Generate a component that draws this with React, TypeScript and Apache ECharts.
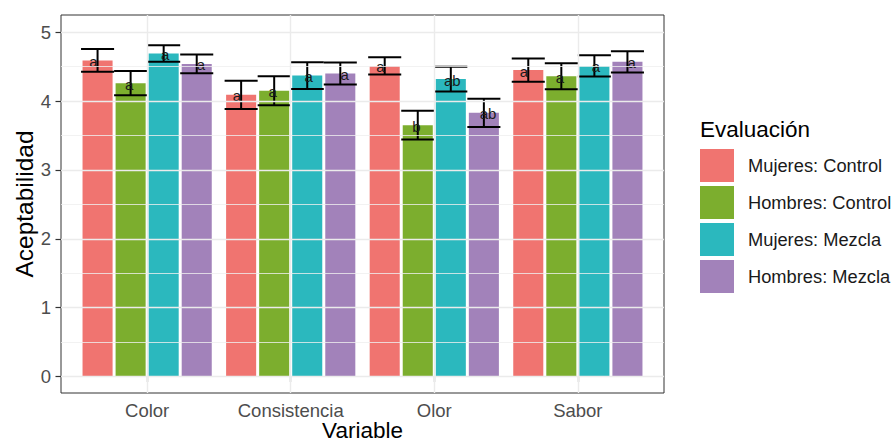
import React, { useEffect, useRef } from "react";
import * as echarts from "echarts";

const categories = ["Color", "Consistencia", "Olor", "Sabor"];
const groups = ["Mujeres: Control", "Hombres: Control", "Mujeres: Mezcla", "Hombres: Mezcla"];
const colors = ["#F07470", "#7CAE2E", "#2BB8BE", "#A282BA"];

const mujeresControl = [4.59, 4.09, 4.51, 4.45];
const hombresControl = [4.26, 4.15, 3.65, 4.36];
const mujeresMezcla = [4.69, 4.37, 4.32, 4.51];
const hombresMezcla = [4.54, 4.4, 3.83, 4.57];

const errMujeresControl = [0.165, 0.205, 0.125, 0.17];
const errHombresControl = [0.175, 0.21, 0.21, 0.19];
const errMujeresMezcla = [0.12, 0.195, 0.18, 0.155];
const errHombresMezcla = [0.135, 0.16, 0.205, 0.155];

const letrasMujeresControl = ["a", "a", "a", "a"];
const letrasHombresControl = ["a", "a", "b", "a"];
const letrasMujeresMezcla = ["a", "a", "ab", "a"];
const letrasHombresMezcla = ["a", "a", "ab", "a"];

const yTicks = [0, 1, 2, 3, 4, 5];
const yMinor = [0.5, 1.5, 2.5, 3.5, 4.5];

const FONT = "'Liberation Sans', Arial, sans-serif";

export default function App() {
  const ref = useRef<HTMLDivElement>(null);
  useEffect(() => {
    document.body.style.margin = "0";
    const chart = echarts.init(ref.current!, null, { renderer: "svg" });
    const means = [mujeresControl, hombresControl, mujeresMezcla, hombresMezcla];
    const errs = [errMujeresControl, errHombresControl, errMujeresMezcla, errHombresMezcla];
    const letters = [letrasMujeresControl, letrasHombresControl, letrasMujeresMezcla, letrasHombresMezcla];

    const yMin = -0.24;
    const yMax = 5.25;

    const barOffset = (band: number, gi: number) => {
      const bw = (band * 0.9) / 4.3;
      const gap = bw * 0.1;
      return { off: -band * 0.45 + gi * (bw + gap) + bw / 2, bw, gap };
    };

    const barSeries = groups.map((g, gi) => ({
      type: "custom",
      name: g,
      xAxisIndex: 1,
      yAxisIndex: 1,
      z: 2,
      itemStyle: { color: colors[gi] },
      encode: { x: 0, y: 1 },
      data: means[gi].map((m, ci) => [ci, m]),
      renderItem: (params: any, api: any) => {
        const cat = api.value(0);
        const val = api.value(1);
        const band = api.size([1, 0])[0];
        const { off, bw } = barOffset(band, gi);
        const p0 = api.coord([cat, 0]);
        const p1 = api.coord([cat, val]);
        return {
          type: "rect",
          shape: { x: p0[0] + off - bw / 2, y: p1[1], width: bw, height: p0[1] - p1[1] },
          style: { fill: colors[gi] },
        };
      },
    }));

    const errSeries = groups.map((g, gi) => ({
      type: "custom",
      name: "err" + gi,
      xAxisIndex: 1,
      yAxisIndex: 1,
      z: 3,
      encode: { x: 0, y: [1, 2] },
      data: means[gi].map((m, ci) => [ci, m - errs[gi][ci], m + errs[gi][ci]]),
      renderItem: (params: any, api: any) => {
        const cat = api.value(0);
        const lo = api.value(1);
        const hi = api.value(2);
        const band = api.size([1, 0])[0];
        const { off, bw, gap } = barOffset(band, gi);
        const pLo = api.coord([cat, lo]);
        const pHi = api.coord([cat, hi]);
        const x = pLo[0] + off;
        const half = (bw + gap) / 2;
        const style = { stroke: "#000", lineWidth: 2 };
        return {
          type: "group",
          children: [
            { type: "line", shape: { x1: x, y1: pLo[1], x2: x, y2: pHi[1] }, style },
            { type: "line", shape: { x1: x - half, y1: pHi[1], x2: x + half, y2: pHi[1] }, style },
            { type: "line", shape: { x1: x - half, y1: pLo[1], x2: x + half, y2: pLo[1] }, style },
          ],
        };
      },
    }));

    const letterSeries = groups.map((g, gi) => ({
      type: "custom",
      name: "let" + gi,
      xAxisIndex: 1,
      yAxisIndex: 1,
      z: 4,
      encode: { x: 0, y: 1 },
      data: means[gi].map((m, ci) => [ci, m]),
      renderItem: (params: any, api: any) => {
        const cat = api.value(0);
        const m = api.value(1);
        const band = api.size([1, 0])[0];
        const p = api.coord([cat, m]);
        const x = p[0] + (gi - 1.5) * 0.25 * band;
        return {
          type: "text",
          style: {
            x,
            y: p[1] + 1,
            text: letters[gi][params.dataIndex],
            fill: "#1a1a1a",
            font: `15px ${FONT}`,
            align: "center",
            verticalAlign: "middle",
          },
        };
      },
    }));

    const option: any = {
      animation: false,
      textStyle: { fontFamily: FONT },
      title: {
        text: "Evaluación",
        left: 695,
        top: 113,
        textStyle: { fontSize: 22.5, fontWeight: "normal", color: "#000", fontFamily: FONT },
      },
      legend: {
        data: groups,
        orient: "vertical",
        left: 695,
        top: 144,
        itemWidth: 34,
        itemHeight: 33,
        itemGap: 4,
        icon: "rect",
        selectedMode: false,
        textStyle: { fontSize: 18.3, color: "#1a1a1a", fontFamily: FONT, padding: [0, 0, 0, 9] },
      },
      grid: [
        {
          left: 61,
          right: 231,
          top: 15,
          bottom: 53,
          show: true,
          borderColor: "#333333",
          borderWidth: 1,
          backgroundColor: "transparent",
          outerBoundsMode: "none",
          containLabel: false,
        },
        {
          left: 75.36,
          right: 245.36,
          top: 15,
          bottom: 53,
          outerBoundsMode: "none",
          containLabel: false,
        },
      ],
      xAxis: [
        { type: "value", gridIndex: 0, min: 0, max: 1, show: false },
        {
          type: "category",
          gridIndex: 1,
          data: categories,
          axisLine: { show: false },
          axisTick: { show: true, alignWithLabel: true, length: 5.5, lineStyle: { color: "#333333", width: 1.2 } },
          axisLabel: { fontSize: 18.5, color: "#4D4D4D", margin: 8, fontFamily: FONT },
          splitLine: { show: false },
          name: "Variable",
          nameLocation: "middle",
          nameGap: 26,
          nameMoveOverlap: false,
          nameTextStyle: { fontSize: 22.5, color: "#000", fontFamily: FONT },
        },
      ],
      yAxis: [
        {
          type: "value",
          gridIndex: 0,
          min: yMin,
          max: yMax,
          axisLine: { show: false },
          axisTick: { show: true, length: 5.5, customValues: yTicks, lineStyle: { color: "#333333", width: 1.2 } },
          axisLabel: { fontSize: 18.5, color: "#4D4D4D", margin: 10, customValues: yTicks, fontFamily: FONT },
          splitLine: { show: false },
          name: "Aceptabilidad",
          nameLocation: "middle",
          nameGap: 24,
          nameMoveOverlap: false,
          nameTextStyle: { fontSize: 24.5, color: "#000", fontFamily: FONT },
        },
        {
          type: "value",
          gridIndex: 1,
          min: yMin,
          max: yMax,
          show: false,
        },
      ],
      series: [
        {
          type: "line",
          name: "hgrid",
          xAxisIndex: 0,
          yAxisIndex: 0,
          data: [],
          z: 0,
          silent: true,
          markLine: {
            silent: true,
            symbol: "none",
            label: { show: false },
            data: [
              ...yMinor.map((v) => ({ yAxis: v, lineStyle: { color: "#EFEFEF", width: 0.8, type: "solid" } })),
              ...yTicks.map((v) => ({ yAxis: v, lineStyle: { color: "#EBEBEB", width: 1.4, type: "solid" } })),
            ],
          },
        },
        {
          type: "line",
          name: "vgrid",
          xAxisIndex: 1,
          yAxisIndex: 1,
          data: [],
          z: 0,
          silent: true,
          markLine: {
            silent: true,
            symbol: "none",
            label: { show: false },
            data: categories.map((c) => ({ xAxis: c, lineStyle: { color: "#EBEBEB", width: 1.4, type: "solid" } })),
          },
        },
        ...barSeries,
        ...errSeries,
        ...letterSeries,
      ],
    };
    chart.setOption(option);
    return () => chart.dispose();
  }, []);
  return <div ref={ref} style={{ width: 895, height: 446 }} />;
}
